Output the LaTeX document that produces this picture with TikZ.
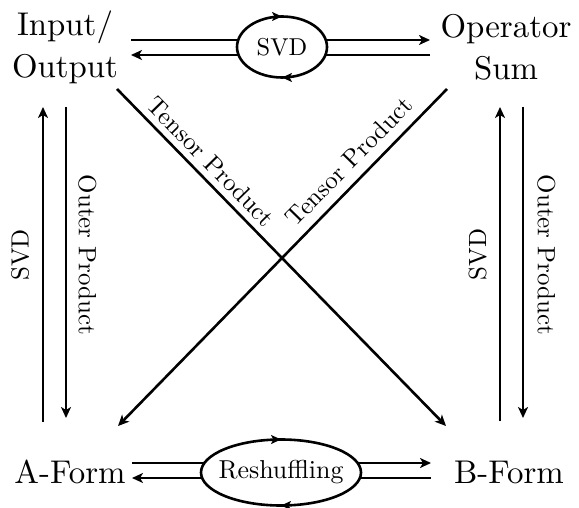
\documentclass[tikz,border=0pt]{standalone}
\usepackage{fontspec}
\setmainfont{lmroman10-regular.otf}
\usetikzlibrary{arrows.meta,calc,shapes.geometric,decorations.markings}
\begin{document}
\begin{tikzpicture}[x=1bp,y=1bp,
  big/.style={font=\fontsize{33}{42}\selectfont, inner sep=0pt, align=center},
  lab/.style={font=\fontsize{25}{29}\selectfont, inner sep=0pt},
  arr/.style={line width=2.6bp, -{Stealth[length=11bp,width=10bp,inset=3bp]}},
  loopnode/.style={ellipse, draw, line width=2.6bp, fill=white, inner sep=0pt,
     font=\fontsize{24.5}{28}\selectfont,
     postaction={decorate}, decoration={markings,
       mark=at position 0.25 with {\arrowreversed{Stealth[length=10bp,width=9bp,inset=2.5bp]}},
       mark=at position 0.75 with {\arrowreversed{Stealth[length=10bp,width=9bp,inset=2.5bp]}}}}
]
\useasboundingbox (0,0) rectangle (579,-508);

\node[big] (io) at (65,-47) {Input/\\Output};
\node[big] (os) at (506,-47) {Operator\\Sum};
\node[big] (af) at (70,-472) {A-Form};
\node[big] (bf) at (509,-472) {B-Form};

% top pair
\draw[arr] ($(io.center)+(66,7)$) -- ($(os.center)+(-76,7)$);
\draw[arr] ($(os.center)+(-76,-8)$) -- ($(io.center)+(66,-8)$);
\node[loopnode, minimum width=90bp, minimum height=61bp] (svd) at (282,-47) {SVD};

% bottom pair
\draw[arr] ($(af.center)+(62,9)$) -- ($(bf.center)+(-78,9)$);
\draw[arr] ($(bf.center)+(-78,-6)$) -- ($(af.center)+(62,-6)$);
\node[loopnode, minimum width=160bp, minimum height=66bp, inner xsep=-7bp, font=\fontsize{26}{30}\selectfont] (rs) at (281,-472.5) {Reshuffling};

% left verticals
\draw[arr] ($(af.center)+(-27,50)$) -- node[pos=0.53, sloped, above=12.5bp, lab] {SVD} ($(io.center)+(-22,-60)$);
\draw[arr] ($(io.center)+(1,-60)$) -- node[pos=0.476, sloped, above=11bp, lab] {Outer Product} ($(af.center)+(-4,54)$);

% right verticals
\draw[arr] ($(bf.center)+(-9,51)$) -- node[pos=0.53, sloped, above=12bp, lab] {SVD} ($(os.center)+(-6,-60)$);
\draw[arr] ($(os.center)+(17,-60)$) -- node[pos=0.476, sloped, above=13bp, lab] {Outer Product} ($(bf.center)+(14,54)$);

% diagonals
\draw[arr] ($(io.center)+(52,-42)$) -- node[pos=0.25, sloped, above=6.5bp, lab] {Tensor Product} ($(bf.center)+(-63,46)$);
\draw[arr] ($(os.center)+(-59,-42)$) -- node[pos=0.255, sloped, above=9.5bp, lab] {Tensor Product} ($(af.center)+(48,46)$);
\end{tikzpicture}
\end{document}
